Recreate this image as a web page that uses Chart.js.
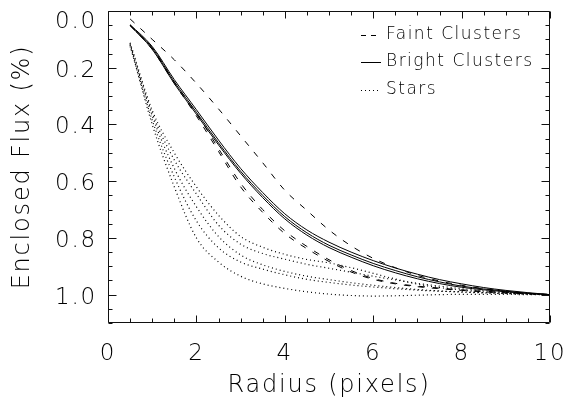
<!DOCTYPE html>
<html><head><meta charset="utf-8">
<style>html,body{margin:0;padding:0;background:#fff;}#wrap{width:568px;height:401px;}</style>
<script src="https://cdn.jsdelivr.net/npm/chart.js@4.4.1/dist/chart.umd.min.js"></script>
</head><body><div id="wrap"><canvas id="c" width="568" height="401"></canvas></div>
<script>
// ---- data ----
const radius = [0.5,1,1.5,2,2.5,3,3.5,4,4.5,5,5.5,6,6.5,7,7.5,8,8.5,9,9.5,10];
const faintOuter  = [0.028,0.10,0.172,0.255,0.345,0.44,0.535,0.632,0.703,0.772,0.828,0.872,0.905,0.932,0.952,0.967,0.979,0.988,0.995,1.0];
const faintInner1 = [0.05,0.13,0.25,0.36,0.485,0.607,0.70,0.775,0.83,0.877,0.915,0.943,0.96,0.97,0.977,0.983,0.988,0.992,0.996,1.0];
const faintInner2 = [0.05,0.135,0.255,0.37,0.495,0.62,0.71,0.785,0.838,0.883,0.92,0.946,0.962,0.972,0.979,0.985,0.99,0.994,0.997,1.0];
const brightA = [0.05,0.13,0.25,0.357,0.465,0.565,0.65,0.725,0.782,0.826,0.86,0.89,0.915,0.937,0.955,0.97,0.98,0.988,0.995,1.0];
const brightB = [0.048,0.125,0.242,0.348,0.455,0.555,0.64,0.715,0.772,0.815,0.85,0.88,0.906,0.928,0.947,0.962,0.975,0.985,0.993,1.0];
const brightC = [0.052,0.135,0.256,0.364,0.472,0.572,0.658,0.733,0.79,0.834,0.868,0.898,0.923,0.944,0.961,0.974,0.983,0.99,0.996,1.0];
const starsA = [0.12,0.40,0.62,0.80,0.885,0.935,0.962,0.978,0.99,0.998,1.003,1.005,1.004,1.002,1.0,0.999,0.999,0.999,1.0,1.0];
const starsB = [0.125,0.385,0.585,0.74,0.835,0.885,0.91,0.93,0.946,0.957,0.966,0.973,0.979,0.984,0.988,0.991,0.994,0.996,0.998,1.0];
const starsC = [0.118,0.37,0.555,0.69,0.795,0.86,0.895,0.918,0.935,0.947,0.958,0.967,0.975,0.982,0.987,0.99,0.993,0.995,0.998,1.0];
const starsD = [0.115,0.36,0.525,0.645,0.755,0.822,0.855,0.875,0.893,0.907,0.921,0.935,0.948,0.96,0.97,0.979,0.986,0.992,0.996,1.0];
const starsE = [0.112,0.35,0.5,0.62,0.72,0.795,0.833,0.858,0.876,0.888,0.905,0.925,0.945,0.963,0.975,0.984,0.99,0.995,0.998,1.0];
const xTicks = [0,2,4,6,8,10];
const yTicks = [0.0,0.2,0.4,0.6,0.8,1.0];
const legendLabels = ['Faint Clusters','Bright Clusters','Stars'];
const xTitle = 'Radius (pixels)';
const yTitle = 'Enclosed Flux (%)';

// ---- styles ----
const FONT = "'DejaVu Sans', sans-serif";
const TXT = '#000';
const DASH = {faint:[6,8], bright:[], stars:[1,3]};

function series(vals, kind){
  return {
    data: radius.map((r,i)=>({x:r, y:vals[i]})),
    borderColor:'#000', borderWidth: kind==='stars'?1.2:1, borderDash:DASH[kind],
    pointRadius:0, fill:false, cubicInterpolationMode:'monotone'
  };
}

const idlAxes = {
  id:'idlAxes',
  beforeDraw(chart){ chart.ctx.letterSpacing = '1.8px'; },
  afterDraw(chart){
    const ctx = chart.ctx, a = chart.chartArea;
    const xs = chart.scales.x, ys = chart.scales.y;
    const L = Math.round(a.left)+0.5, R = Math.round(a.right)-0.5;
    const T = Math.round(a.top)+0.5, B = Math.round(a.bottom)-0.5;
    ctx.save();
    ctx.setLineDash([]);
    ctx.strokeStyle = '#111'; ctx.lineWidth = 1;
    ctx.beginPath();
    ctx.moveTo(L,T); ctx.lineTo(R,T); ctx.lineTo(R,B); ctx.lineTo(L,B); ctx.closePath();
    for (let v=0; v<=10.0001; v+=0.5){
      const px = Math.round(xs.getPixelForValue(v))+0.5;
      const major = Math.abs(v/2 - Math.round(v/2))<1e-6;
      const len = major?7:4;
      ctx.moveTo(px,B); ctx.lineTo(px,B-len);
      ctx.moveTo(px,T); ctx.lineTo(px,T+len);
    }
    for (let k=0; k<=22; k++){
      const v = k*0.05;
      const py = Math.round(ys.getPixelForValue(v))+0.5;
      const major = k%4===0;
      const len = major?8:4;
      ctx.moveTo(L,py); ctx.lineTo(L+len,py);
      ctx.moveTo(R,py); ctx.lineTo(R-len,py);
    }
    ctx.stroke();
    const rows = [35,62,90];
    const dashes = [[5,5],[],[1,3]];
    ctx.strokeStyle = '#000';
    rows.forEach((y,i)=>{
      ctx.setLineDash(dashes[i]);
      ctx.beginPath(); ctx.moveTo(361,y+0.5); ctx.lineTo(381,y+0.5); ctx.stroke();
    });
    ctx.setLineDash([]);
    ctx.letterSpacing = '1.5px';
    ctx.fillStyle = TXT;
    ctx.font = "200 17px " + FONT;
    ctx.textAlign = 'left'; ctx.textBaseline = 'middle';
    rows.forEach((y,i)=>{ ctx.fillText(legendLabels[i], 386, y); });
    ctx.restore();
  }
};

new Chart(document.getElementById('c'), {
  type:'line',
  data:{ datasets:[
    series(faintOuter,'faint'), series(faintInner1,'faint'), series(faintInner2,'faint'),
    series(brightA,'bright'), series(brightB,'bright'), series(brightC,'bright'),
    series(starsA,'stars'), series(starsB,'stars'), series(starsC,'stars'), series(starsD,'stars'), series(starsE,'stars')
  ]},
  options:{
    responsive:false, animation:false, devicePixelRatio:1,
    layout:{padding:{left:0,right:18,top:11,bottom:0}},
    plugins:{legend:{display:false}, tooltip:{enabled:false}},
    scales:{
      x:{ type:'linear', min:0, max:10,
        afterBuildTicks:s=>{ s.ticks = xTicks.map(v=>({value:v})); },
        ticks:{ font:{family:FONT,size:23,weight:'200'}, color:TXT, padding:17, maxRotation:0, autoSkip:false, callback:v=>String(v) },
        grid:{display:false, drawTicks:false}, border:{display:false},
        title:{display:true, text:xTitle, font:{family:FONT,size:24,weight:'200'}, color:TXT, padding:{top:0,bottom:1}},
        afterFit:s=>{ s.height = 78; s.paddingLeft = 0; s.paddingRight = 0; }
      },
      y:{ type:'linear', min:0, max:1.1, reverse:true,
        afterBuildTicks:s=>{ s.ticks = yTicks.map(v=>({value:v})); },
        ticks:{ font:{family:FONT,size:23,weight:'200',lineHeight:'16px'}, color:TXT, padding:11, labelOffset:3,
          callback:v=> v===0 ? ['', v.toFixed(1)] : v.toFixed(1) },
        grid:{display:false, drawTicks:false}, border:{display:false},
        title:{display:true, text:yTitle, font:{family:FONT,size:24,weight:'200'}, color:TXT, padding:{top:8,bottom:0}},
        afterFit:s=>{ s.width = 108; s.paddingTop = 0; s.paddingBottom = 0; }
      }
    }
  },
  plugins:[idlAxes]
});
</script></body></html>
